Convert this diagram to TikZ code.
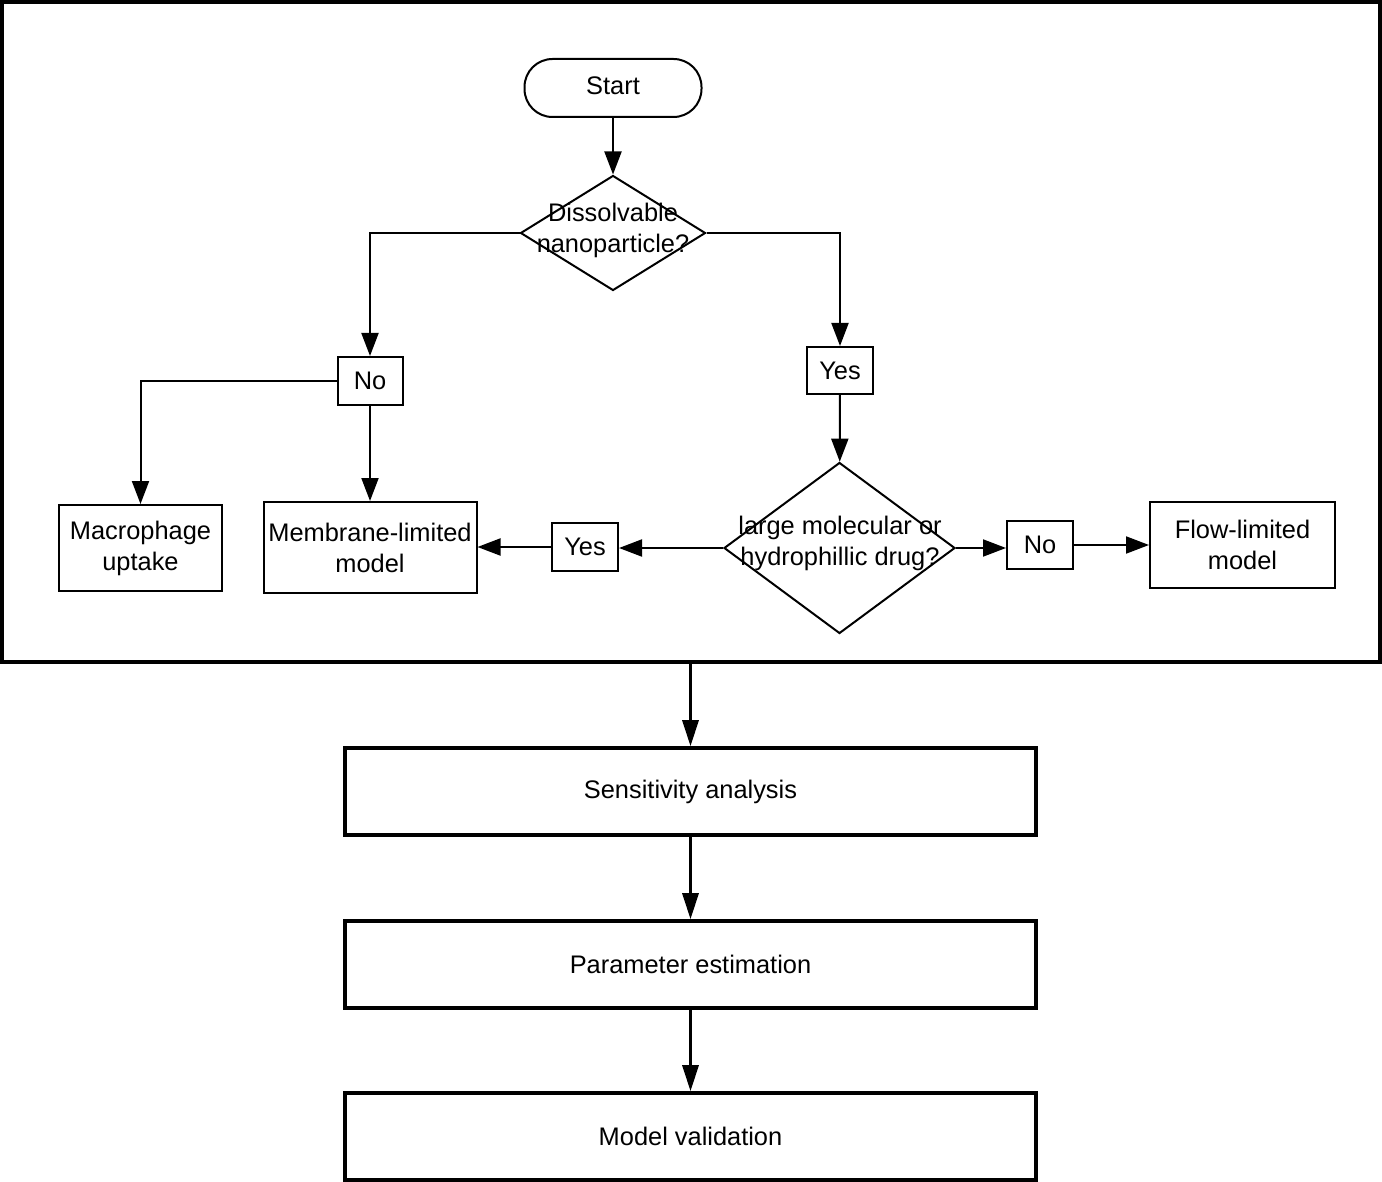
\documentclass[tikz,border=0pt]{standalone}
\usepackage{fontspec}
\setmainfont{Liberation Sans}
\usetikzlibrary{shapes.geometric,arrows.meta}
\begin{document}
\begin{tikzpicture}[x=0.5pt,y=-0.5pt,
  font=\fontsize{12.7}{15.5}\selectfont,
  box/.style={draw,line width=1pt,inner sep=0pt,align=center},
  bigbox/.style={draw,line width=1.8pt,inner sep=0pt,minimum width=345.5pt,minimum height=43.5pt},
  arr/.style={line width=1pt,-{Triangle[length=11.5pt,width=8.5pt]}},
  barr/.style={line width=1.6pt,-{Triangle[length=13pt,width=8pt]}},
  dia/.style={draw,diamond,line width=1pt,inner sep=0pt},
  dtext/.style={align=center,inner sep=0pt}]
\useasboundingbox (0,0) rectangle (1382,1182);
% frame
\node[draw,line width=2pt,minimum width=689pt,minimum height=330pt,inner sep=0pt] (frame) at (691,332) {};
% top flowchart
\node[box,rounded corners=14pt,minimum width=88.5pt,minimum height=29pt] (start) at (613,88) {\raisebox{2pt}{Start}};
\node[dia,minimum width=92.5pt,minimum height=57.5pt] (d1) at (613,233) {};
\node[dtext] (d1t) at (613,230) {Dissolvable\\nanoparticle?};
\node[box,minimum width=32.5pt,minimum height=24pt] (no1) at (370,381) {No};
\node[box,minimum width=33pt,minimum height=23.5pt] (yes1) at (840,370.5) {Yes};
\node[box,minimum width=81.5pt,minimum height=43pt] (mac) at (140.5,548) {Macrophage\\uptake};
\node[box,minimum width=106.5pt,minimum height=45.5pt] (mem) at (370,547.5) {Membrane-limited\\model};
\node[dia,minimum width=115.5pt,minimum height=85.5pt] (d2) at (839.5,548) {};
\node[dtext] (d2t) at (840,543) {large molecular or\\hydrophillic drug?};
\node[box,minimum width=33pt,minimum height=24pt] (yes2) at (585,547) {Yes};
\node[box,minimum width=33pt,minimum height=24pt] (no2) at (1040,545) {No};
\node[box,minimum width=92.5pt,minimum height=43pt] (flow) at (1242.5,545) {Flow-limited\\model};
% bottom boxes
\node[bigbox] (sens) at (690.5,791.5) {Sensitivity analysis};
\node[bigbox] (param) at (690.5,964.5) {Parameter estimation};
\node[bigbox] (valid) at (690.5,1136.5) {Model validation};
% connectors
\draw[arr] (start) -- (d1);
\draw[arr] (d1.west) -| (no1);
\draw[arr] (d1.east) -| (yes1);
\draw[arr] (yes1) -- (d2);
\draw[arr] (no1.west) -| (mac);
\draw[arr] (no1) -- (mem);
\draw[arr] (d2.west) -- (d2.west -| yes2.east);
\draw[arr] (yes2.west) -- (yes2.west -| mem.east);
\draw[arr] (d2.east) -- (d2.east -| no2.west);
\draw[arr] (no2.east) -- (no2.east -| flow.west);
\draw[barr] (frame.south -| sens.north) -- (sens.north);
\draw[barr] (sens) -- (param);
\draw[barr] (param) -- (valid);
\end{tikzpicture}
\end{document}
